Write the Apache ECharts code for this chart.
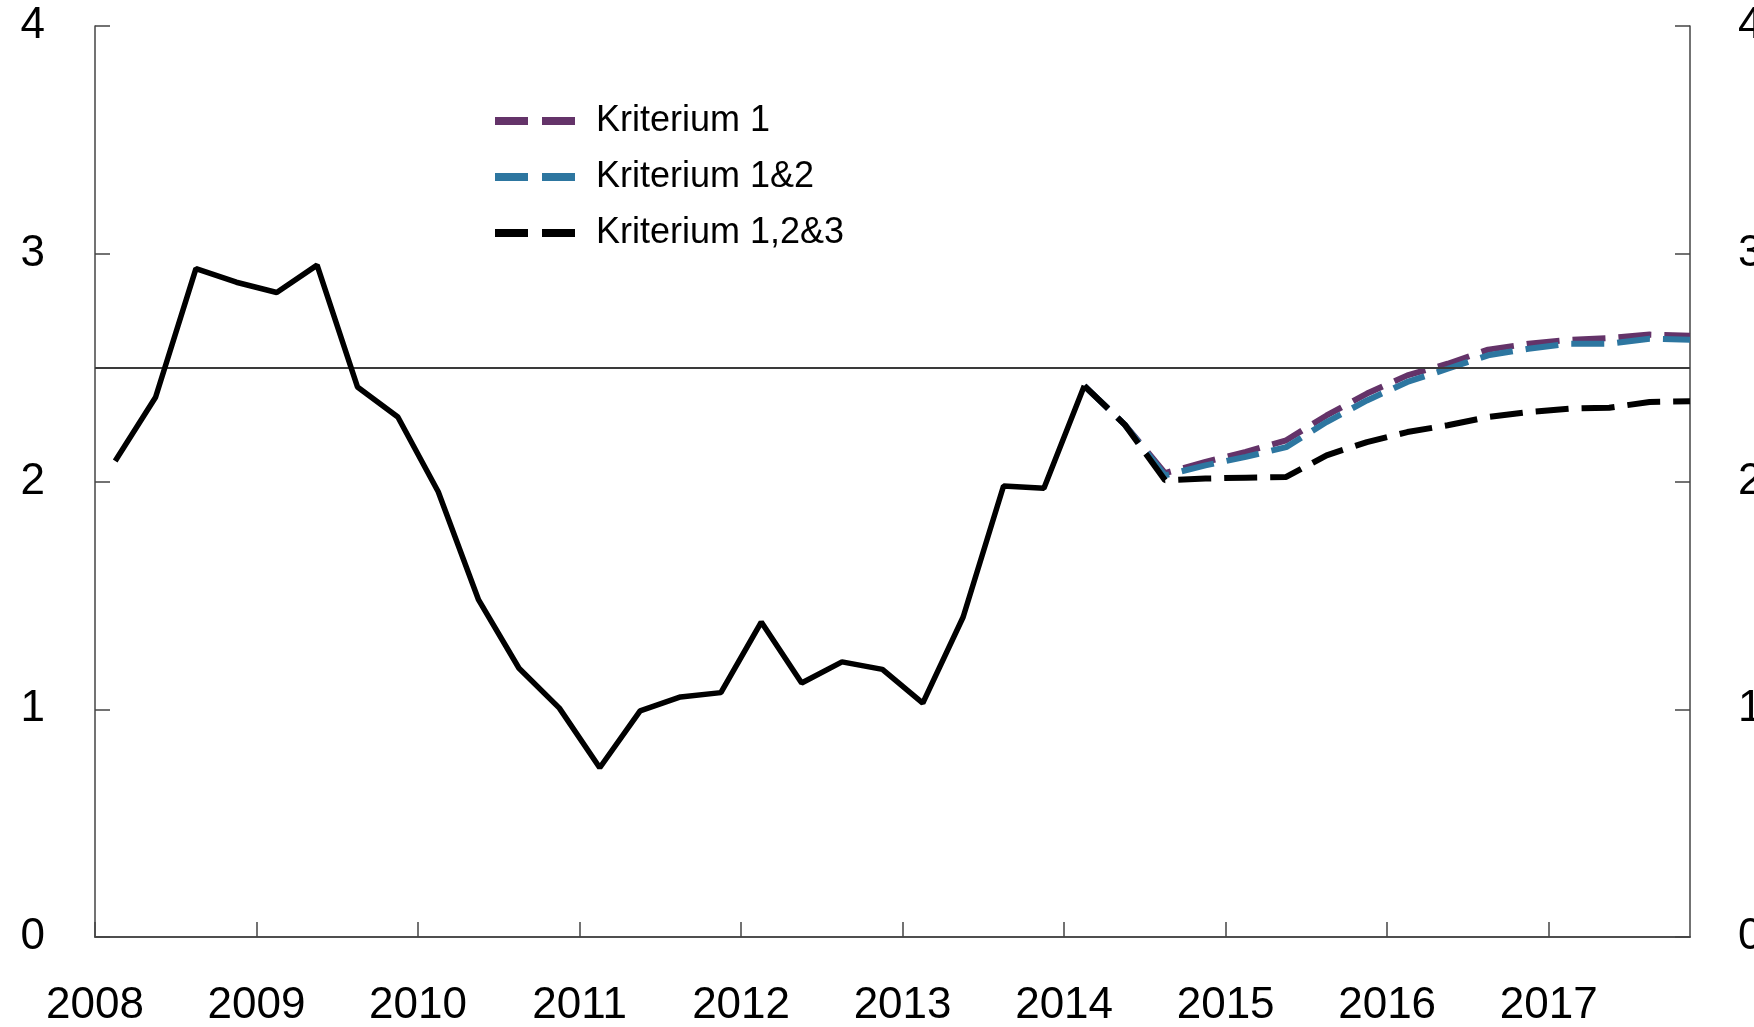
<!DOCTYPE html>
<html>
<head>
<meta charset="utf-8">
<script src="https://cdn.jsdelivr.net/npm/echarts@6/dist/echarts.min.js"></script>
<style>
  html, body { margin: 0; padding: 0; background: #fff; }
  #chart { width: 1754px; height: 1027px; }
</style>
</head>
<body>
<div id="chart"></div>
<script>
// Quarterly series, 2008 Q1 – 2014 Q1 (outcome)
const histStart = [2008, 1];
const histValues = [2.09, 2.37, 2.935, 2.875, 2.83, 2.95, 2.415, 2.283, 1.955, 1.48,
  1.18, 1.005, 0.743, 0.993, 1.054, 1.073, 1.383, 1.115, 1.208, 1.175,
  1.027, 1.405, 1.98, 1.97, 2.42];

// Projections, 2014 Q1 – 2017 Q4
const projStart = [2014, 1];
const krit1 = [2.42, 2.25, 2.037, 2.086, 2.13, 2.181, 2.29, 2.386, 2.466, 2.517,
  2.579, 2.605, 2.622, 2.63, 2.645, 2.64];
const krit12 = [2.42, 2.25, 2.027, 2.071, 2.108, 2.151, 2.261, 2.356, 2.437, 2.495,
  2.554, 2.583, 2.605, 2.605, 2.627, 2.622];
const krit123 = [2.42, 2.25, 2.005, 2.013, 2.017, 2.02, 2.115, 2.173, 2.217, 2.247,
  2.283, 2.305, 2.32, 2.324, 2.349, 2.352];

const seriesNames = ['Kriterium 1', 'Kriterium 1&2', 'Kriterium 1,2&3'];
const seriesColors = ['#643369', '#2d76a0', '#000000'];
const refLevel = 2.5;
const xMin = 2008, xMax = 2017.875;
const yTicks = [0, 1, 2, 3, 4];

// place each quarter at its midpoint on a decimal-year axis
function toPairs(start, values) {
  return values.map((v, i) => {
    const q = (start[1] - 1) + i;
    return [start[0] + (q + 0.5) / 4, v];
  });
}

const FONT = '"Liberation Sans", Arial, Helvetica, sans-serif';
const dashIcon = 'path://M0,0h33v8h-33z M47,0h33v8h-33z';

const chart = echarts.init(document.getElementById('chart'), null, { renderer: 'canvas' });

const axisLine = { show: true, lineStyle: { color: '#444', width: 1.5 } };
const tickStyle = { show: true, inside: true, length: 15, lineStyle: { color: '#444', width: 1.5 } };

const projSeries = [krit1, krit12, krit123].map((vals, k) => ({
  name: seriesNames[k],
  type: 'line',
  data: toPairs(projStart, vals),
  showSymbol: false,
  symbol: 'none',
  z: 3 + k,
  itemStyle: { color: seriesColors[k] },
  lineStyle: { color: seriesColors[k], width: 6, type: [33, 13] },
  animation: false
}));

chart.setOption({
  backgroundColor: '#fff',
  animation: false,
  grid: { left: 95, right: 64, top: 26, bottom: 90, containLabel: false, outerBoundsMode: 'none' },
  legend: {
    data: seriesNames.map(n => ({ name: n, icon: dashIcon })),
    orient: 'vertical',
    left: 495,
    top: 103,
    padding: 0,
    itemWidth: 80,
    itemHeight: 8,
    itemGap: 20,
    selectedMode: false,
    textStyle: { fontFamily: FONT, fontSize: 36, color: '#000', lineHeight: 36, padding: [0, 0, 0, 16] }
  },
  xAxis: [{
    type: 'value',
    position: 'bottom',
    min: xMin,
    max: xMax,
    interval: 1,
    axisLine: axisLine,
    axisTick: tickStyle,
    splitLine: { show: false },
    axisLabel: {
      showMaxLabel: false,
      fontFamily: FONT, fontSize: 44, color: '#000', margin: 47,
      formatter: v => (Number.isInteger(v) ? String(v) : '')
    }
  }, {
    type: 'value',
    position: 'top',
    min: xMin,
    max: xMax,
    axisLine: axisLine,
    axisTick: { show: false },
    axisLabel: { show: false },
    splitLine: { show: false }
  }],
  yAxis: [{
    type: 'value',
    position: 'left',
    min: yTicks[0],
    max: yTicks[yTicks.length - 1],
    interval: 1,
    axisLine: axisLine,
    axisTick: tickStyle,
    splitLine: { show: false },
    axisLabel: { fontFamily: FONT, fontSize: 44, color: '#000', margin: 50 }
  }, {
    type: 'value',
    position: 'right',
    min: yTicks[0],
    max: yTicks[yTicks.length - 1],
    interval: 1,
    axisLine: axisLine,
    axisTick: tickStyle,
    splitLine: { show: false },
    axisLabel: { fontFamily: FONT, fontSize: 44, color: '#000', margin: 48 }
  }],
  series: [
    {
      name: 'Historikk',
      type: 'line',
      data: toPairs(histStart, histValues),
      showSymbol: false,
      symbol: 'none',
      z: 6,
      itemStyle: { color: '#000' },
      lineStyle: { color: '#000', width: 5.5 },
      markLine: {
        silent: true,
        symbol: 'none',
        label: { show: false },
        lineStyle: { color: '#3a3a3a', width: 2, type: 'solid' },
        data: [{ yAxis: refLevel }]
      }
    }
  ].concat(projSeries)
});
</script>
</body>
</html>
